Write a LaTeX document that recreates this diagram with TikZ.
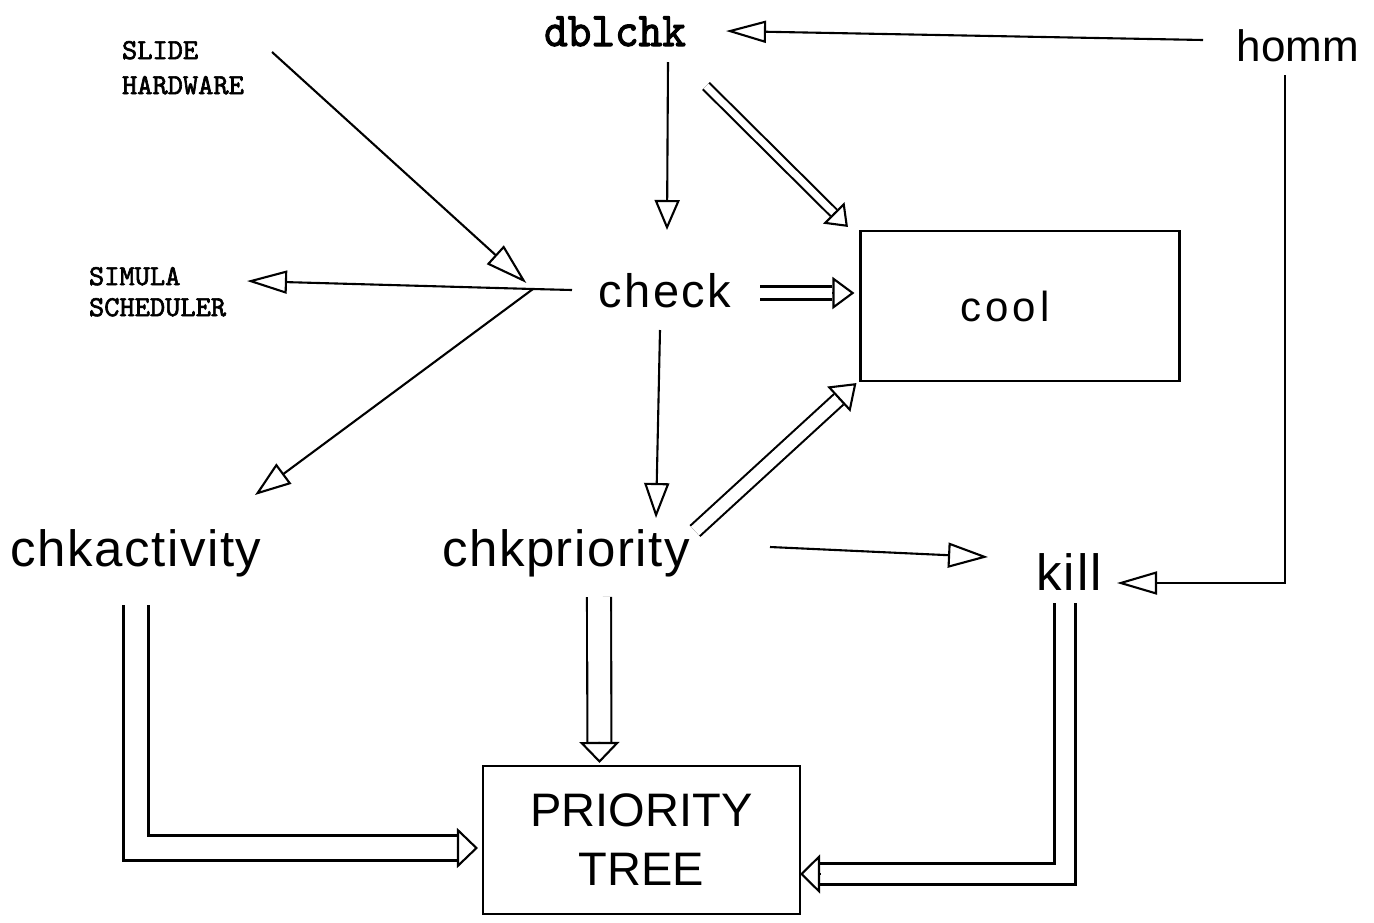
\documentclass[tikz,border=0pt]{standalone}
\usepackage{fontspec}
\usepackage{graphicx}
\setmainfont{Liberation Sans}
\newfontfamily\slab{lmmono10-regular.otf}[FakeBold=2.2]
\usetikzlibrary{arrows.meta,calc}
\newcommand\fsz[2]{\fontsize{#1}{#2}\selectfont}
\newcommand\track[1]{\addfontfeature{LetterSpace=#1}}
\begin{document}
\begin{tikzpicture}[x=1pt,y=-1pt,line width=2.1pt,
  arrs/.style 2 args={-{Triangle[open,length=#1,width=#2]}},
  dshaft/.style={double,double distance=#1,line cap=butt},
  dhead/.style 2 args={-{Triangle[open,length=#1,width=#2]}},
  word/.style={inner sep=0pt,anchor=base},
  tag/.style={inner sep=0pt,anchor=north west,align=left},
  box/.style={draw,inner sep=0pt}]
\useasboundingbox (0,0) rectangle (1374,922);

% ---- labels and boxes
\node[word,font=\slab\fsz{45}{45}] (dblchk) at (615,46) {\scalebox{1}[1.08]{dblchk}};
\node[word,font=\fsz{44}{44}] (homm) at (1298,61) {homm};
\node[tag,font=\slab\fsz{29}{35}] (slide) at (121,40) {SLIDE\\HARDWARE};
\node[tag,font=\slab\fsz{29}{31}] (sim) at (88,266) {SIMULA\\SCHEDULER};
\node[word,font=\fsz{47}{50}\track{5}] (check) at (665,307) {check};
\node[box,minimum width=319pt,minimum height=150pt,font=\fsz{42}{44}\track{10}] (cool) at (1020,306) {cool\hspace*{30pt}};
\node[word,font=\fsz{51}{54}\track{3}] (chkact) at (136,566) {chkactivity};
\node[word,font=\fsz{51}{54}\track{3}] (chkprio) at (566,566) {chkpriority};
\node[word,font=\fsz{51}{54}\track{4}] (kill) at (1069,590) {kill};
\node[box,minimum width=317pt,minimum height=148pt,align=center,font=\fsz{47}{59}] (tree) at (641.5,840) {PRIORITY\\TREE};

% ---- fork point left of check
\coordinate (j) at (533,289);

% ---- single-line connectors
\draw[arrs={40pt}{22pt}] ([shift={(-95,-21)}]homm.base) -- ([shift={(111,-15)}]dblchk.base);
\draw[arrs={30pt}{25pt}] ([shift={(53,16)}]dblchk.base) -- ([shift={(2,-77)}]check.base);
\draw[arrs={42pt}{25pt},shorten >=9pt] ([shift={(151,12)}]slide.north west) -- (j);
\draw[arrs={40pt}{23pt}] ([shift={(-93,-17)}]check.base) -- (j) -- ([shift={(159,15)}]sim.north west);
\draw[arrs={36pt}{25pt}] (j) -- ([shift={(119,-71)}]chkact.base);
\draw[arrs={35pt}{25pt}] ([shift={(-5,23)}]check.base) -- ([shift={(90,-48)}]chkprio.base);
\draw[arrs={40pt}{25pt}] ([shift={(204,-19)}]chkprio.base) -- ([shift={(-81,-33)}]kill.base);
\draw[arrs={40pt}{23pt}] ([shift={(-13,14)}]homm.base) |- ([shift={(48,-7)}]kill.base);

% ---- double-line connectors
% dblchk -> cool
\path ([shift={(91,40)}]dblchk.base) coordinate (a3s) ([shift={(-11.5,-3)}]cool.north west) coordinate (a3t);
\draw[dshaft=6.9pt,shorten >=20pt] (a3s) -- (a3t);
\draw[dhead={20pt}{30pt}] ($(a3t)!20pt!(a3s)$) -- (a3t);
% check -> cool
\path ([shift={(95,-14)}]check.base) coordinate (a8s) ([shift={(-5,-13)}]cool.west) coordinate (a8t);
\draw[dshaft=10.9pt,shorten >=22pt] (a8s) -- (a8t);
\draw[dhead={22pt}{32pt}] ($(a8t)!22pt!(a8s)$) -- (a8t);
% chkpriority -> cool
\path ([shift={(129,-35)}]chkprio.base) coordinate (a9s) ([shift={(-3,1)}]cool.south west) coordinate (a9t);
\draw[dshaft=11.9pt,shorten >=24pt] (a9s) -- (a9t);
\draw[dhead={24pt}{34pt}] ($(a9t)!24pt!(a9s)$) -- (a9t);
% chkactivity -> PRIORITY TREE
\path ([shift={(0,39)}]chkact.base) coordinate (a12s) ([shift={(-4,8)}]tree.west) coordinate (a12t);
\draw[dshaft=22.9pt,shorten >=21pt] (a12s) |- (a12t);
\draw[dhead={21pt}{40pt}] ($(a12t)+(-21,0)$) -- (a12t);
% chkpriority -> PRIORITY TREE
\path ([shift={(33,31)}]chkprio.base) coordinate (a13s) ([shift={(-42,-2)}]tree.north) coordinate (a13t);
\draw[dshaft=21.9pt,shorten >=21pt] (a13s) -- (a13t);
\draw[dhead={21pt}{40pt}] ($(a13t)!21pt!(a13s)$) -- (a13t);
% kill -> PRIORITY TREE
\path ([shift={(-4,13)}]kill.base) coordinate (a14s) ([shift={(-1,34)}]tree.east) coordinate (a14t);
\draw[dshaft=18.9pt,shorten >=20pt] (a14s) |- (a14t);
\draw[dhead={20pt}{39pt}] ($(a14t)+(20,0)$) -- (a14t);
\end{tikzpicture}
\end{document}
